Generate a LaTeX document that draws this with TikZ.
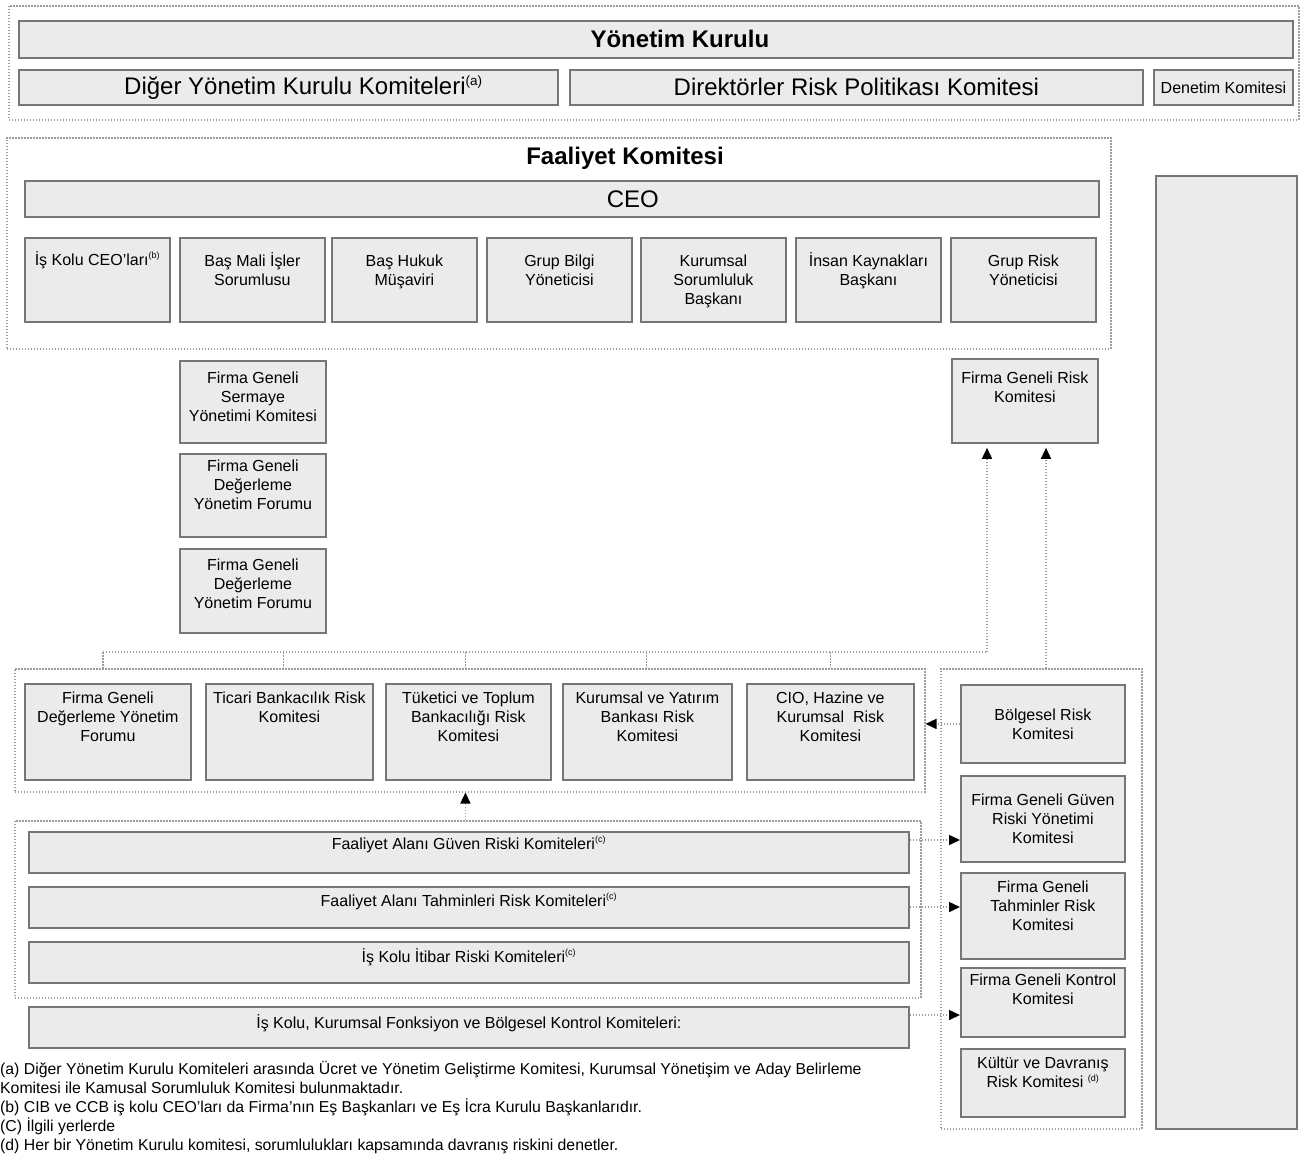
\documentclass[tikz,border=0pt]{standalone}
\usepackage{fontspec}
\usepackage{graphicx}
\setmainfont{Liberation Sans}
\usetikzlibrary{arrows.meta}
\definecolor{boxfill}{HTML}{EBEBEB}
\definecolor{boxline}{HTML}{767676}
\definecolor{dotline}{HTML}{9C9C9C}
\newcommand{\fnmark}[1]{\textsuperscript{\scalebox{0.8}{(#1)}}}

\begin{document}
\begin{tikzpicture}
  [x=1pt,y=-1pt,
   box/.style={draw=boxline,fill=boxfill,line width=1.8pt,anchor=north west,
               inner sep=0pt,align=center,font=\fontsize{16}{19}\selectfont},
   sz/.style 2 args={minimum width=#1pt,minimum height=#2pt},
   big/.style={font=\fontsize{24}{28}\selectfont},
   bigbold/.style={font=\fontsize{24}{28}\selectfont\bfseries},
   intext/.style={anchor=north,align=center,inner sep=0pt,yshift=-#1,
                  font=\fontsize{16}{19}\selectfont},
   intext/.default=8pt,
   bartext/.style={anchor=north,inner sep=0pt,yshift=-#1,
                   font=\fontsize{16}{19}\selectfont,execute at begin node={\rule{0pt}{16pt}}},
   bartext/.default=6pt,
   group/.style={draw=dotline,line width=1.5pt,dash pattern=on 1.5pt off 1.5pt,
                 anchor=north west,inner sep=0pt},
   link/.style={draw=dotline,line width=1.5pt,dash pattern=on 1.5pt off 1.5pt},
   tip/.style={-{Triangle[length=11pt,width=10pt,color=black]}}]
  \useasboundingbox (0,0) rectangle (1306,1154);

  % board
  \node[group,sz={1290}{114}] (grpT) at (8,5) {};
  \node[box,sz={1274}{37},label={[bigbold,xshift=24pt]center:Yönetim Kurulu}] (yk) at (18,20) {};
  \node[box,sz={539}{35},label={[big,xshift=15pt]center:Diğer Yönetim Kurulu Komiteleri\fnmark{a}}] (dyk) at (18,69) {};
  \node[box,sz={573}{35},big] (drp) at (569,69) {Direktörler Risk Politikası Komitesi};
  \node[box,sz={139}{35}] (den) at (1153,69) {Denetim Komitesi};

  % operating committee
  \node[group,sz={1104}{211}] (grpF) at (6,137) {};
  \node[bigbold] (fk) at (625,158) {Faaliyet Komitesi};
  \node[box,sz={1074}{36},label={[big,xshift=71pt]center:CEO}] (ceo) at (24,180) {};
  \foreach \px/\id/\dy/\words in {24/ibc/14/{İş Kolu CEO’ları\fnmark{b}},
                                  179/cfo/15/{Baş Mali İşler\\Sorumlusu},
                                  331/bhm/18/{Baş Hukuk\\Müşaviri},
                                  486/gby/18/{Grup Bilgi\\Yöneticisi},
                                  640/ksb/18/{Kurumsal\\Sorumluluk\\Başkanı},
                                  795/ikb/15/{İnsan Kaynakları\\Başkanı},
                                  950/gry/18/{Grup Risk\\Yöneticisi}}
    \node[box,sz={145}{84},label={[intext=\dy pt]north:\words}] (\id) at (\px,237) {};

  \node[box,sz={141}{953}] (side) at (1155,175) {};

  % firm-wide committees
  \node[box,sz={146}{82},label={[intext=12pt]north:{Firma Geneli\\Sermaye\\Yönetimi Komitesi}}] (fsy) at (179,360) {};
  \node[box,sz={146}{83},label={[intext=7pt]north:{Firma Geneli\\Değerleme\\Yönetim Forumu}}] (fdy1) at (179,453) {};
  \node[box,sz={146}{84},label={[intext=11pt]north:{Firma Geneli\\Değerleme\\Yönetim Forumu}}] (fdy2) at (179,548) {};
  \node[box,sz={146}{84},label={[intext=14pt]north:{Firma Geneli Risk\\Komitesi}}] (fgr) at (951,358) {};

  % risk committees
  \node[group,sz={910}{123}] (grpB) at (14,668) {};
  \foreach \px/\bw/\id/\words in {24/166/fdf/{Firma Geneli\\Değerleme Yönetim\\Forumu},
                                  205/167/tbr/{Ticari Bankacılık Risk\\Komitesi},
                                  385/165/ttb/{Tüketici ve Toplum\\Bankacılığı Risk\\Komitesi},
                                  562/169/kyb/{Kurumsal ve Yatırım\\Bankası Risk\\Komitesi},
                                  746/167/chk/{CIO, Hazine ve\\Kurumsal~ Risk\\Komitesi}}
    \node[box,sz={\bw}{96},label={[intext=9pt]north:\words}] (\id) at (\px,683) {};

  \node[group,sz={201}{460}] (grpR) at (940,668) {};
  \node[box,sz={164}{78}] (brk) at (960,684) {Bölgesel Risk\\Komitesi};
  \node[box,sz={164}{86}] (fgg) at (960,775) {Firma Geneli Güven\\Riski Yönetimi\\Komitesi};
  \node[box,sz={164}{86},label={[intext=9pt]north:{Firma Geneli\\Tahminler Risk\\Komitesi}}] (fgt) at (960,872) {};
  \node[box,sz={164}{69},label={[intext=7pt]north:{Firma Geneli Kontrol\\Komitesi}}] (fgk) at (960,967) {};
  \node[box,sz={164}{68},label={[intext=9pt]north:{Kültür ve Davranış\\Risk Komitesi \fnmark{d}}}] (kdr) at (960,1048) {};

  % business area committees
  \node[group,sz={906}{177}] (grpC) at (14,820) {};
  \node[box,sz={880}{41},label={[bartext=2pt]north:Faaliyet Alanı Güven Riski Komiteleri\fnmark{c}}] (bar1) at (28,831) {};
  \node[box,sz={880}{41},label={[bartext=4pt]north:Faaliyet Alanı Tahminleri Risk Komiteleri\fnmark{c}}] (bar2) at (28,886) {};
  \node[box,sz={880}{41},label={[bartext=5pt]north:İş Kolu İtibar Riski Komiteleri\fnmark{c}}] (bar3) at (28,941) {};
  \node[box,sz={880}{41},label={[bartext=6pt]north:İş Kolu, Kurumsal Fonksiyon ve Bölgesel Kontrol Komiteleri:}] (bar4) at (28,1006) {};

  % connectors
  \coordinate (rA) at ([xshift=36pt]fgr.south west);
  \coordinate (rB) at ([xshift=95pt]fgr.south west);
  \coordinate (bus) at (rA |- 0,652);
  \draw[link] ([xshift=-5pt]fdf.north |- bus) -- (bus);
  \draw[link,tip,shorten >=4pt] (bus) -- (rA);
  \foreach \id/\dx in {fdf/-5,tbr/-6,ttb/-3,kyb/-1,chk/0}
    \draw[link] ([xshift=\dx pt]\id.north |- bus) -- ([xshift=\dx pt]\id.north |- grpB.north);
  \draw[link,tip,shorten >=4pt] (grpR.north -| rB) -- (rB);
  \draw[link,tip] (brk.west) -- (brk.west -| grpB.east);
  \draw[link,tip] ([xshift=-3pt]ttb.south |- grpC.north) -- ([xshift=-3pt]ttb.south |- grpB.south);
  \foreach \b/\to/\dy in {bar1/fgg/9,bar2/fgt/21,bar4/fgk/9} {
    \coordinate (a\b) at ([yshift=-\dy pt]\b.north east);
    \draw[link,tip] (a\b) -- (a\b -| \to.west);
  }

  % notes
  \node[anchor=north west,align=left,inner sep=0pt,font=\fontsize{15.8}{19}\selectfont] (notes) at (0,1061)
    {(a) Diğer Yönetim Kurulu Komiteleri arasında Ücret ve Yönetim Geliştirme Komitesi, Kurumsal Yönetişim ve Aday Belirleme\\
     Komitesi ile Kamusal Sorumluluk Komitesi bulunmaktadır.\\
     (b) CIB ve CCB iş kolu CEO'ları da Firma'nın Eş Başkanları ve Eş İcra Kurulu Başkanlarıdır.\\
     (C) İlgili yerlerde\\
     (d) Her bir Yönetim Kurulu komitesi, sorumlulukları kapsamında davranış riskini denetler.};
\end{tikzpicture}
\end{document}
